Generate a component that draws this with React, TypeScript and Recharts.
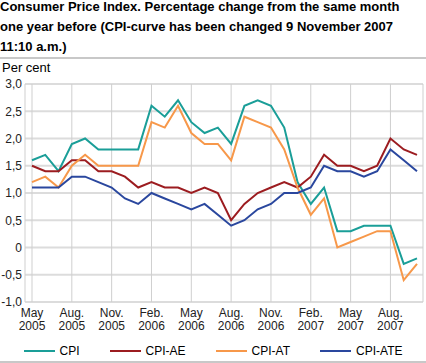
import { CartesianGrid, Line, LineChart, XAxis, YAxis } from 'recharts';

const months = [
  'May 2005', 'June 2005', 'July 2005', 'Aug. 2005', 'Sep. 2005', 'Oct. 2005',
  'Nov. 2005', 'Dec. 2005', 'Jan. 2006', 'Feb. 2006', 'Mar. 2006', 'Apr. 2006',
  'May 2006', 'June 2006', 'July 2006', 'Aug. 2006', 'Sep. 2006', 'Oct. 2006',
  'Nov. 2006', 'Dec. 2006', 'Jan. 2007', 'Feb. 2007', 'Mar. 2007', 'Apr. 2007',
  'May 2007', 'June 2007', 'July 2007', 'Aug. 2007', 'Sep. 2007', 'Oct. 2007'
];

const cpi = [1.6, 1.7, 1.4, 1.9, 2.0, 1.8, 1.8, 1.8, 1.8, 2.6, 2.4, 2.7, 2.3, 2.1, 2.2, 1.9, 2.6, 2.7, 2.6, 2.2, 1.2, 0.8, 1.1, 0.3, 0.3, 0.4, 0.4, 0.4, -0.3, -0.2];
const cpiAe = [1.5, 1.4, 1.4, 1.6, 1.6, 1.4, 1.4, 1.3, 1.1, 1.2, 1.1, 1.1, 1.0, 1.1, 1.0, 0.5, 0.8, 1.0, 1.1, 1.2, 1.1, 1.3, 1.7, 1.5, 1.5, 1.4, 1.5, 2.0, 1.8, 1.7];
const cpiAt = [1.2, 1.3, 1.1, 1.5, 1.7, 1.5, 1.5, 1.5, 1.5, 2.3, 2.2, 2.6, 2.1, 1.9, 1.9, 1.6, 2.4, 2.3, 2.2, 1.8, 1.1, 0.6, 0.9, 0.0, 0.1, 0.2, 0.3, 0.3, -0.6, -0.3];
const cpiAte = [1.1, 1.1, 1.1, 1.3, 1.3, 1.2, 1.1, 0.9, 0.8, 1.0, 0.9, 0.8, 0.7, 0.8, 0.6, 0.4, 0.5, 0.7, 0.8, 1.0, 1.0, 1.1, 1.5, 1.4, 1.4, 1.3, 1.4, 1.8, 1.6, 1.4];

const yTicks = [-1, -0.5, 0, 0.5, 1, 1.5, 2, 2.5, 3];

const series = [
  { key: 'cpi', name: 'CPI', color: '#1a9e98' },
  { key: 'ae', name: 'CPI-AE', color: '#9c1c20' },
  { key: 'at', name: 'CPI-AT', color: '#f7984a' },
  { key: 'ate', name: 'CPI-ATE', color: '#2a479e' }
];

const data = months.map((m, i) => ({
  month: m,
  cpi: cpi[i],
  ae: cpiAe[i],
  at: cpiAt[i],
  ate: cpiAte[i]
}));

const font = '"Liberation Sans", Arial, sans-serif';

function MonthTick({ x, y, payload }: any) {
  const [mon, year] = String(payload.value).split(' ');
  return (
    <text x={x} y={y} textAnchor="middle" fontSize={12} fill="#222" fontFamily={font}>
      <tspan x={x} dy={15}>{mon}</tspan>
      <tspan x={x} dy={13}>{year}</tspan>
    </text>
  );
}

const fmt = (v: number) => (v === 0 ? '0' : v.toFixed(1).replace('.', ','));

export default function App() {
  return (
    <div style={{ position: 'absolute', left: 0, top: 0, width: 426, height: 363, fontFamily: font, color: '#000', background: '#fff' }}>
      <div style={{ position: 'absolute', left: 0, top: -3, width: 426, fontSize: 13, fontWeight: 'bold', lineHeight: '20px' }}>
        Consumer Price Index. Percentage change from the same month one year before (CPI-curve has been changed 9 November 2007 11:10 a.m.)
      </div>
      <div style={{ position: 'absolute', left: 0, top: 57, width: 426, height: 2, background: '#c8c8c8' }} />
      <div style={{ position: 'absolute', left: 2, top: 60, fontSize: 13 }}>Per cent</div>
      <div style={{ position: 'absolute', left: 0, top: 0 }}>
        <LineChart width={426} height={363} data={data} margin={{ top: 84, right: 3, bottom: 31, left: 0 }}>
          <CartesianGrid vertical={false} stroke="#dcdcdc" strokeWidth={2} />
          <CartesianGrid horizontal={false} stroke="#cfcfcf" strokeWidth={1} />
          <XAxis
            dataKey="month"
            interval={2}
            axisLine={false}
            tickLine={false}
            tickSize={0}
            tickMargin={0}
            height={30}
            padding={{ left: 7, right: 6 }}
            tick={<MonthTick />}
          />
          <YAxis
            domain={[-1, 3]}
            ticks={yTicks}
            tickFormatter={fmt}
            axisLine={false}
            tickLine={false}
            tickSize={0}
            tickMargin={3}
            width={25}
            tick={{ fontSize: 12, fill: '#222', fontFamily: font }}
          />
          {series.map((s) => (
            <Line
              key={s.key}
              type="linear"
              dataKey={s.key}
              name={s.name}
              stroke={s.color}
              strokeWidth={2}
              dot={false}
              isAnimationActive={false}
            />
          ))}
        </LineChart>
      </div>
      <div style={{ position: 'absolute', left: 0, top: 343, width: 426, display: 'flex', justifyContent: 'center', gap: 30, fontSize: 12, lineHeight: '16px' }}>
        {series.map((s) => (
          <div key={s.key} style={{ display: 'flex', alignItems: 'center' }}>
            <span style={{ display: 'inline-block', width: 31, height: 2, background: s.color, marginRight: 5 }} />
            <span>{s.name}</span>
          </div>
        ))}
      </div>
      <div style={{ position: 'absolute', left: 0, top: 361, width: 426, height: 2, background: '#c8c8c8' }} />
    </div>
  );
}
